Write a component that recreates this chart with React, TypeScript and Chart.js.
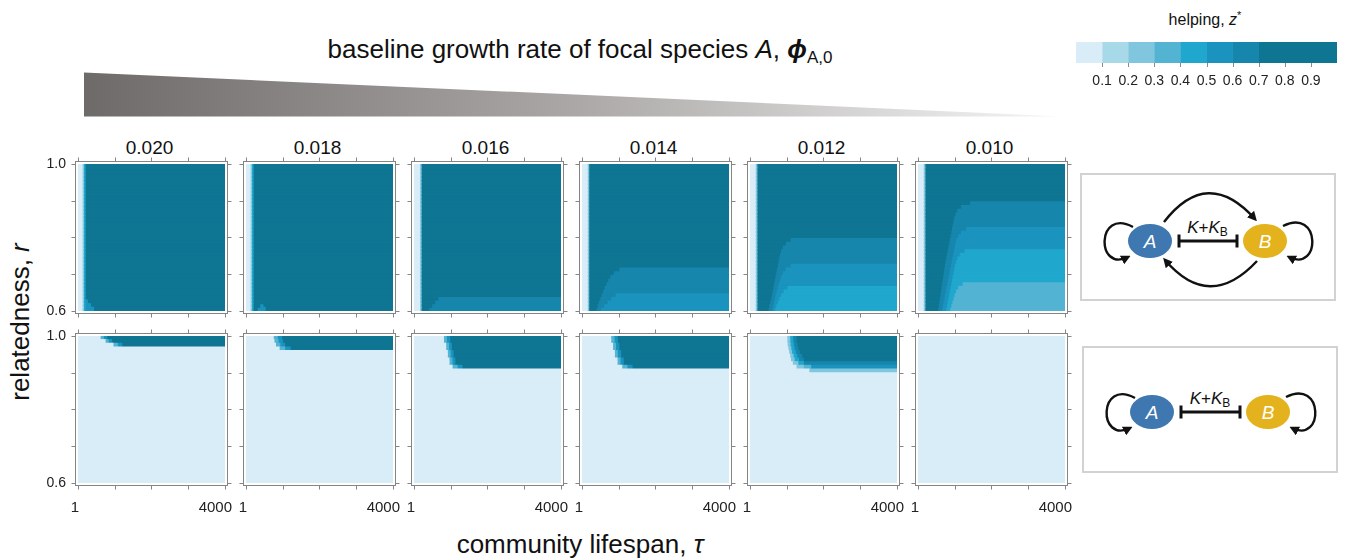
import React, { useEffect, useRef } from 'react';
import { Chart, registerables } from 'chart.js';

Chart.register(...registerables);

const FONT = '"Liberation Sans", Arial, Helvetica, sans-serif';

// ---------- colour scale for helping, z* ----------
const zBinEdges = [0, 0.1, 0.2, 0.3, 0.4, 0.5, 0.6, 0.7, 1.0];
const zBinColors = ['#d9edf8', '#a8d9e9', '#80c6de', '#53b3d2', '#1fa7cd', '#1a94be', '#1686ac', '#0e7593'];
const cbTickValues = [0.1, 0.2, 0.3, 0.4, 0.5, 0.6, 0.7, 0.8, 0.9];
const cbTickLabels = ['0.1', '0.2', '0.3', '0.4', '0.5', '0.6', '0.7', '0.8', '0.9'];

// ---------- axes ----------
const phiLabels = ['0.020', '0.018', '0.016', '0.014', '0.012', '0.010'];
const tauMin = 1;
const tauMax = 4000;
const rMin = 0.6;
const rMax = 1.0;
const rStep = 0.01;
const tauTickValues = [1, 1000, 2000, 3000, 4000];
const rTickValues = [0.6, 0.7, 0.8, 0.9, 1.0];
const tauTickLabels = ['1', '4000'];
const rTickLabels = ['1.0', '0.6'];

// ---------- heat-map data ----------
// each band: [r low, r high, runs]; runs = [[tau where run ends, z*], ...] from tau = 1
const top020 = [
  [0.63, 1.0, [[100, 0.05], [140, 0.15], [190, 0.45], [4000, 0.85]]],
  [0.62, 0.63, [[100, 0.05], [140, 0.15], [190, 0.45], [260, 0.55], [4000, 0.85]]],
  [0.61, 0.62, [[100, 0.05], [140, 0.15], [190, 0.45], [340, 0.55], [4000, 0.85]]],
  [0.6, 0.61, [[100, 0.05], [140, 0.15], [190, 0.45], [420, 0.55], [4000, 0.85]]],
];
const top018 = [
  [0.62, 1.0, [[100, 0.05], [140, 0.15], [190, 0.45], [4000, 0.85]]],
  [0.61, 0.62, [[100, 0.05], [140, 0.15], [190, 0.45], [370, 0.85], [460, 0.55], [4000, 0.85]]],
  [0.6, 0.61, [[100, 0.05], [140, 0.15], [190, 0.45], [300, 0.85], [520, 0.55], [4000, 0.85]]],
];
const top016 = [
  [0.64, 1.0, [[150, 0.05], [190, 0.25], [4000, 0.85]]],
  [0.63, 0.64, [[150, 0.05], [190, 0.25], [650, 0.85], [4000, 0.65]]],
  [0.62, 0.63, [[150, 0.05], [190, 0.25], [560, 0.85], [4000, 0.65]]],
  [0.61, 0.62, [[150, 0.05], [190, 0.25], [480, 0.85], [4000, 0.65]]],
  [0.6, 0.61, [[150, 0.05], [190, 0.25], [400, 0.85], [4000, 0.65]]],
];
const top014 = [
  [0.72, 1.0, [[140, 0.05], [180, 0.25], [4000, 0.85]]],
  [0.71, 0.72, [[140, 0.05], [180, 0.25], [1000, 0.85], [4000, 0.65]]],
  [0.7, 0.71, [[140, 0.05], [180, 0.25], [850, 0.85], [4000, 0.65]]],
  [0.69, 0.7, [[140, 0.05], [180, 0.25], [760, 0.85], [4000, 0.65]]],
  [0.68, 0.69, [[140, 0.05], [180, 0.25], [700, 0.85], [4000, 0.65]]],
  [0.67, 0.68, [[140, 0.05], [180, 0.25], [650, 0.85], [4000, 0.65]]],
  [0.66, 0.67, [[140, 0.05], [180, 0.25], [600, 0.85], [4000, 0.65]]],
  [0.65, 0.66, [[140, 0.05], [180, 0.25], [560, 0.85], [4000, 0.65]]],
  [0.64, 0.65, [[140, 0.05], [180, 0.25], [520, 0.85], [900, 0.65], [4000, 0.55]]],
  [0.63, 0.64, [[140, 0.05], [180, 0.25], [480, 0.85], [780, 0.65], [4000, 0.55]]],
  [0.62, 0.63, [[140, 0.05], [180, 0.25], [440, 0.85], [680, 0.65], [4000, 0.55]]],
  [0.61, 0.62, [[140, 0.05], [180, 0.25], [410, 0.85], [590, 0.65], [4000, 0.55]]],
  [0.6, 0.61, [[140, 0.05], [180, 0.25], [380, 0.85], [500, 0.65], [4000, 0.55]]],
];
const top012 = [
  [0.8, 1.0, [[140, 0.05], [185, 0.25], [4000, 0.85]]],
  [0.79, 0.8, [[140, 0.05], [185, 0.25], [1090, 0.85], [4000, 0.65]]],
  [0.78, 0.79, [[140, 0.05], [185, 0.25], [960, 0.85], [4000, 0.65]]],
  [0.77, 0.78, [[140, 0.05], [185, 0.25], [880, 0.85], [4000, 0.65]]],
  [0.76, 0.77, [[140, 0.05], [185, 0.25], [830, 0.85], [4000, 0.65]]],
  [0.75, 0.76, [[140, 0.05], [185, 0.25], [800, 0.85], [4000, 0.65]]],
  [0.74, 0.75, [[140, 0.05], [185, 0.25], [780, 0.85], [4000, 0.65]]],
  [0.73, 0.74, [[140, 0.05], [185, 0.25], [760, 0.85], [4000, 0.65]]],
  [0.72, 0.73, [[140, 0.05], [185, 0.25], [740, 0.85], [1090, 0.65], [4000, 0.55]]],
  [0.71, 0.72, [[140, 0.05], [185, 0.25], [720, 0.85], [960, 0.65], [4000, 0.55]]],
  [0.7, 0.71, [[140, 0.05], [185, 0.25], [700, 0.85], [880, 0.65], [4000, 0.55]]],
  [0.69, 0.7, [[140, 0.05], [185, 0.25], [680, 0.85], [830, 0.65], [4000, 0.55]]],
  [0.68, 0.69, [[140, 0.05], [185, 0.25], [660, 0.85], [800, 0.65], [4000, 0.55]]],
  [0.67, 0.68, [[140, 0.05], [185, 0.25], [640, 0.85], [770, 0.65], [4000, 0.55]]],
  [0.66, 0.67, [[140, 0.05], [185, 0.25], [620, 0.85], [740, 0.65], [1000, 0.55], [4000, 0.45]]],
  [0.65, 0.66, [[140, 0.05], [185, 0.25], [600, 0.85], [710, 0.65], [900, 0.55], [4000, 0.45]]],
  [0.64, 0.65, [[140, 0.05], [185, 0.25], [580, 0.85], [680, 0.65], [830, 0.55], [4000, 0.45]]],
  [0.63, 0.64, [[140, 0.05], [185, 0.25], [560, 0.85], [660, 0.65], [780, 0.55], [4000, 0.45]]],
  [0.62, 0.63, [[140, 0.05], [185, 0.25], [540, 0.85], [640, 0.65], [740, 0.55], [4000, 0.45]]],
  [0.61, 0.62, [[140, 0.05], [185, 0.25], [510, 0.85], [620, 0.65], [700, 0.55], [4000, 0.45]]],
  [0.6, 0.61, [[140, 0.05], [185, 0.25], [490, 0.85], [600, 0.65], [670, 0.55], [4000, 0.45]]],
];
const top010 = [
  [0.9, 1.0, [[140, 0.05], [185, 0.25], [4000, 0.85]]],
  [0.89, 0.9, [[140, 0.05], [185, 0.25], [1400, 0.85], [4000, 0.65]]],
  [0.88, 0.89, [[140, 0.05], [185, 0.25], [1150, 0.85], [4000, 0.65]]],
  [0.87, 0.88, [[140, 0.05], [185, 0.25], [1050, 0.85], [4000, 0.65]]],
  [0.86, 0.87, [[140, 0.05], [185, 0.25], [1000, 0.85], [4000, 0.65]]],
  [0.85, 0.86, [[140, 0.05], [185, 0.25], [970, 0.85], [4000, 0.65]]],
  [0.84, 0.85, [[140, 0.05], [185, 0.25], [950, 0.85], [4000, 0.65]]],
  [0.83, 0.84, [[140, 0.05], [185, 0.25], [930, 0.85], [4000, 0.65]]],
  [0.82, 0.83, [[140, 0.05], [185, 0.25], [910, 0.85], [1300, 0.65], [4000, 0.55]]],
  [0.81, 0.82, [[140, 0.05], [185, 0.25], [890, 0.85], [1150, 0.65], [4000, 0.55]]],
  [0.8, 0.81, [[140, 0.05], [185, 0.25], [870, 0.85], [1080, 0.65], [4000, 0.55]]],
  [0.79, 0.8, [[140, 0.05], [185, 0.25], [850, 0.85], [1030, 0.65], [4000, 0.55]]],
  [0.78, 0.79, [[140, 0.05], [185, 0.25], [830, 0.85], [1000, 0.65], [4000, 0.55]]],
  [0.77, 0.78, [[140, 0.05], [185, 0.25], [810, 0.85], [980, 0.65], [4000, 0.55]]],
  [0.76, 0.77, [[140, 0.05], [185, 0.25], [790, 0.85], [960, 0.65], [1250, 0.55], [4000, 0.45]]],
  [0.75, 0.76, [[140, 0.05], [185, 0.25], [770, 0.85], [940, 0.65], [1120, 0.55], [4000, 0.45]]],
  [0.74, 0.75, [[140, 0.05], [185, 0.25], [750, 0.85], [920, 0.65], [1060, 0.55], [4000, 0.45]]],
  [0.73, 0.74, [[140, 0.05], [185, 0.25], [730, 0.85], [900, 0.65], [1020, 0.55], [4000, 0.45]]],
  [0.72, 0.73, [[140, 0.05], [185, 0.25], [715, 0.85], [880, 0.65], [990, 0.55], [4000, 0.45]]],
  [0.71, 0.72, [[140, 0.05], [185, 0.25], [700, 0.85], [860, 0.65], [970, 0.55], [4000, 0.45]]],
  [0.7, 0.71, [[140, 0.05], [185, 0.25], [685, 0.85], [840, 0.65], [950, 0.55], [4000, 0.45]]],
  [0.69, 0.7, [[140, 0.05], [185, 0.25], [670, 0.85], [820, 0.65], [930, 0.55], [4000, 0.45]]],
  [0.68, 0.69, [[140, 0.05], [185, 0.25], [655, 0.85], [800, 0.65], [910, 0.55], [4000, 0.45]]],
  [0.67, 0.68, [[140, 0.05], [185, 0.25], [640, 0.85], [780, 0.65], [890, 0.55], [1200, 0.45], [4000, 0.35]]],
  [0.66, 0.67, [[140, 0.05], [185, 0.25], [625, 0.85], [760, 0.65], [870, 0.55], [1080, 0.45], [4000, 0.35]]],
  [0.65, 0.66, [[140, 0.05], [185, 0.25], [610, 0.85], [740, 0.65], [850, 0.55], [1020, 0.45], [4000, 0.35]]],
  [0.64, 0.65, [[140, 0.05], [185, 0.25], [595, 0.85], [720, 0.65], [830, 0.55], [980, 0.45], [4000, 0.35]]],
  [0.63, 0.64, [[140, 0.05], [185, 0.25], [580, 0.85], [700, 0.65], [810, 0.55], [950, 0.45], [4000, 0.35]]],
  [0.62, 0.63, [[140, 0.05], [185, 0.25], [565, 0.85], [680, 0.65], [790, 0.55], [920, 0.45], [4000, 0.35]]],
  [0.61, 0.62, [[140, 0.05], [185, 0.25], [550, 0.85], [660, 0.65], [770, 0.55], [890, 0.45], [4000, 0.35]]],
  [0.6, 0.61, [[140, 0.05], [185, 0.25], [535, 0.85], [640, 0.65], [750, 0.55], [860, 0.45], [4000, 0.35]]],
];

const bot020 = [
  [0.99, 1.0, [[600, 0.05], [690, 0.35], [780, 0.55], [4000, 0.85]]],
  [0.98, 0.99, [[735, 0.05], [820, 0.35], [915, 0.55], [4000, 0.85]]],
  [0.97, 0.98, [[950, 0.05], [1070, 0.35], [1190, 0.55], [4000, 0.85]]],
  [0.6, 0.97, [[4000, 0.05]]],
];
const bot018 = [
  [0.99, 1.0, [[740, 0.05], [850, 0.35], [970, 0.55], [4000, 0.85]]],
  [0.98, 0.99, [[760, 0.05], [870, 0.35], [990, 0.55], [4000, 0.85]]],
  [0.97, 0.98, [[800, 0.05], [920, 0.35], [1050, 0.55], [4000, 0.85]]],
  [0.96, 0.97, [[900, 0.05], [1050, 0.35], [1200, 0.55], [4000, 0.85]]],
  [0.6, 0.96, [[4000, 0.05]]],
];
const bot016 = [
  [0.98, 1.0, [[800, 0.05], [880, 0.35], [970, 0.55], [4000, 0.85]]],
  [0.96, 0.98, [[860, 0.05], [940, 0.35], [1015, 0.55], [4000, 0.85]]],
  [0.94, 0.96, [[905, 0.05], [980, 0.35], [1060, 0.55], [4000, 0.85]]],
  [0.92, 0.94, [[950, 0.05], [1030, 0.35], [1110, 0.55], [4000, 0.85]]],
  [0.91, 0.92, [[1035, 0.05], [1170, 0.35], [1305, 0.55], [4000, 0.85]]],
  [0.6, 0.91, [[4000, 0.05]]],
];
const bot014 = [
  [0.98, 1.0, [[780, 0.05], [870, 0.35], [960, 0.55], [4000, 0.85]]],
  [0.96, 0.98, [[830, 0.05], [910, 0.35], [1000, 0.55], [4000, 0.85]]],
  [0.94, 0.96, [[880, 0.05], [960, 0.35], [1050, 0.55], [4000, 0.85]]],
  [0.92, 0.94, [[950, 0.05], [1030, 0.35], [1120, 0.55], [4000, 0.85]]],
  [0.91, 0.92, [[1080, 0.05], [1220, 0.35], [1360, 0.55], [4000, 0.85]]],
  [0.6, 0.91, [[4000, 0.05]]],
];
const bot012 = [
  [0.98, 1.0, [[1000, 0.05], [1080, 0.25], [1160, 0.45], [1250, 0.65], [4000, 0.85]]],
  [0.97, 0.98, [[1010, 0.05], [1090, 0.25], [1180, 0.45], [1280, 0.65], [4000, 0.85]]],
  [0.96, 0.97, [[1030, 0.05], [1110, 0.25], [1200, 0.45], [1300, 0.65], [4000, 0.85]]],
  [0.95, 0.96, [[1050, 0.05], [1130, 0.25], [1230, 0.45], [1340, 0.65], [4000, 0.85]]],
  [0.94, 0.95, [[1080, 0.05], [1170, 0.25], [1270, 0.45], [1400, 0.65], [4000, 0.85]]],
  [0.93, 0.94, [[1100, 0.05], [1200, 0.25], [1320, 0.45], [1450, 0.65], [4000, 0.85]]],
  [0.92, 0.93, [[1150, 0.05], [1300, 0.25], [1450, 0.45], [4000, 0.65]]],
  [0.91, 0.92, [[1250, 0.05], [1450, 0.25], [1650, 0.35], [4000, 0.55]]],
  [0.9, 0.91, [[1600, 0.05], [4000, 0.25]]],
  [0.6, 0.9, [[4000, 0.05]]],
];
const bot010 = [
  [0.6, 1.0, [[4000, 0.05]]],
];

const topRowData = [top020, top018, top016, top014, top012, top010];
const bottomRowData = [bot020, bot018, bot016, bot014, bot012, bot010];

// ---------- layout ----------
const PANEL_W = 147;
const PANEL_H = 147;
const COL_X = [78, 246, 414, 582, 750, 918];
const ROW_Y = [164, 336];
const PAD = { left: 44, right: 18, top: 10, bottom: 36 };

function zColor(z: number): string {
  for (let i = 0; i < zBinColors.length; i++) {
    if (z >= zBinEdges[i] && z < zBinEdges[i + 1]) return zBinColors[i];
  }
  return zBinColors[zBinColors.length - 1];
}

function buildRows(bands: any[]) {
  const n = Math.round((rMax - rMin) / rStep);
  const rows: { label: string; runs: number[][] }[] = [];
  for (let i = 0; i < n; i++) {
    const lo = rMax - (i + 1) * rStep;
    const band = bands.find((b) => lo >= b[0] - 1e-6 && lo < b[1] - 1e-6);
    rows.push({ label: lo.toFixed(2), runs: band ? band[2] : [[tauMax, 0.05]] });
  }
  return rows;
}

const panelDecor = {
  id: 'panelDecor',
  afterDraw(chart: any, _args: any, opts: any) {
    const { ctx, chartArea: ca } = chart;
    const xs = chart.scales.x;
    const ys = chart.scales.yr;
    const g = 2;
    const tl = 4;
    ctx.save();
    ctx.strokeStyle = '#858585';
    ctx.lineWidth = 1;
    const L = Math.round(ca.left - g) - 0.5;
    const R = Math.round(ca.right + g) + 0.5;
    const T = Math.round(ca.top - g) - 0.5;
    const B = Math.round(ca.bottom + g) + 0.5;
    ctx.strokeRect(L, T, R - L, B - T);
    ctx.beginPath();
    for (const v of tauTickValues) {
      const x = Math.round(xs.getPixelForValue(v)) + 0.5;
      ctx.moveTo(x, T);
      ctx.lineTo(x, T - tl);
      ctx.moveTo(x, B);
      ctx.lineTo(x, B + tl);
    }
    for (const v of rTickValues) {
      const y = Math.round(ys.getPixelForValue(v)) + 0.5;
      ctx.moveTo(L, y);
      ctx.lineTo(L - tl, y);
      ctx.moveTo(R, y);
      ctx.lineTo(R + tl, y);
    }
    ctx.stroke();
    ctx.fillStyle = '#222';
    if (opts.showX) {
      ctx.font = `15px ${FONT}`;
      ctx.textBaseline = 'middle';
      ctx.textAlign = 'center';
      ctx.fillText(tauTickLabels[0], xs.getPixelForValue(tauMin) - 3, ca.bottom + 25);
      ctx.textAlign = 'right';
      ctx.fillText(tauTickLabels[1], xs.getPixelForValue(tauMax) + 7, ca.bottom + 25);
    }
    if (opts.showY) {
      ctx.font = `14px ${FONT}`;
      ctx.textBaseline = 'middle';
      ctx.textAlign = 'right';
      ctx.fillText(rTickLabels[0], ca.left - 12, ys.getPixelForValue(rMax));
      ctx.fillText(rTickLabels[1], ca.left - 12, ys.getPixelForValue(rMin));
    }
    ctx.restore();
  },
};

function HeatPanel({ bands, col, row }: { bands: any[]; col: number; row: number }) {
  const ref = useRef<HTMLCanvasElement>(null);
  const W = PANEL_W + PAD.left + PAD.right;
  const H = PANEL_H + PAD.top + PAD.bottom;
  useEffect(() => {
    const rows = buildRows(bands);
    const nRuns = Math.max(...rows.map((r) => r.runs.length));
    const datasets: any[] = [];
    for (let j = 0; j < nRuns; j++) {
      datasets.push({
        data: rows.map((r) => (r.runs[j] ? [j === 0 ? tauMin : r.runs[j - 1][0], r.runs[j][0]] : null)),
        backgroundColor: rows.map((r) => (r.runs[j] ? zColor(r.runs[j][1]) : 'rgba(0,0,0,0)')),
        borderWidth: 0,
        inflateAmount: 0.6,
        grouped: false,
        categoryPercentage: 1,
        barPercentage: 1,
      });
    }
    const chart = new Chart(ref.current as HTMLCanvasElement, {
      type: 'bar',
      data: { labels: rows.map((r) => r.label), datasets },
      options: {
        indexAxis: 'y',
        animation: false,
        responsive: false,
        devicePixelRatio: 1,
        events: [],
        layout: { padding: PAD },
        scales: {
          x: { type: 'linear', min: tauMin, max: tauMax, offset: false, display: false },
          y: { type: 'category', offset: true, display: false },
          yr: { type: 'linear', axis: 'y', min: rMin, max: rMax, offset: false, display: false },
        },
        plugins: {
          legend: { display: false },
          tooltip: { enabled: false },
          panelDecor: { showX: row === 1, showY: col === 0 },
        },
      } as any,
      plugins: [panelDecor],
    });
    return () => chart.destroy();
  }, []);
  return (
    <canvas
      ref={ref}
      width={W}
      height={H}
      style={{ position: 'absolute', left: COL_X[col] - PAD.left, top: ROW_Y[row] - PAD.top, width: W, height: H }}
    />
  );
}

const cbDecor = {
  id: 'cbDecor',
  afterDraw(chart: any) {
    const { ctx, chartArea: ca } = chart;
    const xs = chart.scales.x;
    ctx.save();
    ctx.strokeStyle = '#8a8a8a';
    ctx.lineWidth = 1;
    ctx.beginPath();
    cbTickValues.forEach((v) => {
      const x = Math.round(xs.getPixelForValue(v)) + 0.5;
      ctx.moveTo(x, ca.bottom);
      ctx.lineTo(x, ca.bottom + 4);
    });
    ctx.stroke();
    ctx.fillStyle = '#222';
    ctx.font = `14px ${FONT}`;
    ctx.textAlign = 'center';
    ctx.textBaseline = 'middle';
    cbTickValues.forEach((v, i) => {
      ctx.fillText(cbTickLabels[i], xs.getPixelForValue(v), ca.bottom + 18);
    });
    ctx.restore();
  },
};

const CB = { left: 1076, top: 42, width: 261, height: 21 };
const CB_PAD = { left: 12, right: 8, top: 4, bottom: 32 };

function ColorBar() {
  const ref = useRef<HTMLCanvasElement>(null);
  const W = CB.width + CB_PAD.left + CB_PAD.right;
  const H = CB.height + CB_PAD.top + CB_PAD.bottom;
  useEffect(() => {
    const datasets = zBinColors.map((c, i) => ({
      data: [[zBinEdges[i], zBinEdges[i + 1]]],
      backgroundColor: c,
      borderWidth: 0,
      grouped: false,
      categoryPercentage: 1,
      barPercentage: 1,
    }));
    const chart = new Chart(ref.current as HTMLCanvasElement, {
      type: 'bar',
      data: { labels: ['z'], datasets },
      options: {
        indexAxis: 'y',
        animation: false,
        responsive: false,
        devicePixelRatio: 1,
        events: [],
        layout: { padding: CB_PAD },
        scales: {
          x: { type: 'linear', min: zBinEdges[0], max: zBinEdges[zBinEdges.length - 1], offset: false, display: false },
          y: { type: 'category', offset: true, display: false },
        },
        plugins: { legend: { display: false }, tooltip: { enabled: false } },
      } as any,
      plugins: [cbDecor],
    });
    return () => chart.destroy();
  }, []);
  return (
    <canvas
      ref={ref}
      width={W}
      height={H}
      style={{ position: 'absolute', left: CB.left - CB_PAD.left, top: CB.top - CB_PAD.top, width: W, height: H }}
    />
  );
}

function Diagram({ ax, bx, cy, mutual, box }: { ax: number; bx: number; cy: number; mutual: boolean; box: number[] }) {
  const mx = (ax + bx) / 2;
  return (
    <g>
      <rect x={box[0]} y={box[1]} width={box[2]} height={box[3]} fill="#fff" stroke="#d2d2d2" strokeWidth={2} />
      <g fill="none" stroke="#111" strokeWidth={2.4}>
        {mutual && <path d={`M${ax + 14},${cy - 19} Q${mx},${cy - 75} ${bx - 10},${cy - 22}`} markerEnd="url(#ah)" />}
        {mutual && <path d={`M${bx - 8},${cy + 20} Q${mx + 2},${cy + 71} ${ax + 15},${cy + 19}`} markerEnd="url(#ah)" />}
        <path d={`M${ax - 17},${cy - 14} C${ax - 54},${cy - 34} ${ax - 54},${cy + 32} ${ax - 22},${cy + 16}`} markerEnd="url(#ah)" />
        <path d={`M${bx + 18},${cy - 15} C${bx + 56},${cy - 34} ${bx + 56},${cy + 32} ${bx + 24},${cy + 16}`} markerEnd="url(#ah)" />
        <path d={`M${ax + 29},${cy} L${bx - 28},${cy}`} strokeWidth={2.8} />
        <path d={`M${ax + 29},${cy - 6.5} L${ax + 29},${cy + 6.5} M${bx - 28},${cy - 6.5} L${bx - 28},${cy + 6.5}`} strokeWidth={3} />
      </g>
      <ellipse cx={ax} cy={cy} rx={22} ry={17} fill="#3f77b1" />
      <ellipse cx={bx} cy={cy} rx={22} ry={17} fill="#e4b21c" />
      <text x={ax} y={cy + 7} textAnchor="middle" fontSize={19} fontStyle="italic" fill="#fff">A</text>
      <text x={bx} y={cy + 7} textAnchor="middle" fontSize={19} fontStyle="italic" fill="#fff">B</text>
      <text x={mx} y={cy - 8} textAnchor="middle" fontSize={17} fill="#111">
        <tspan fontStyle="italic">K</tspan>+<tspan fontStyle="italic">K</tspan>
        <tspan fontSize={12} dy={3}>B</tspan>
      </text>
    </g>
  );
}

export default function App() {
  return (
    <div style={{ position: 'absolute', left: 0, top: 0, width: 1349, height: 558, overflow: 'hidden', background: '#fff', fontFamily: FONT }}>
      <svg width={1349} height={558} style={{ position: 'absolute', left: 0, top: 0 }} fontFamily={FONT}>
        <defs>
          <linearGradient id="tri" gradientUnits="userSpaceOnUse" x1={84} y1={0} x2={1062} y2={0}>
            <stop offset="0" stopColor="#6e6a69" />
            <stop offset="0.5" stopColor="#aaa7a6" />
            <stop offset="1" stopColor="#f6f6f6" />
          </linearGradient>
          <marker id="ah" viewBox="0 0 10 10" refX="7" refY="5" markerWidth="4" markerHeight="4" orient="auto" markerUnits="strokeWidth">
            <path d="M0,0 L10,5 L0,10 z" fill="#111" stroke="none" />
          </marker>
        </defs>
        <text x={580} y={58} textAnchor="middle" fontSize={26} fill="#111">
          baseline growth rate of focal species <tspan fontStyle="italic">A</tspan>,{' '}
          <tspan fontStyle="italic" fontWeight="bold">ϕ</tspan>
          <tspan fontSize={17} dy={5}>A,0</tspan>
        </text>
        <polygon points="84,72.5 84,116.5 1062,116.5" fill="url(#tri)" />
        {phiLabels.map((p, i) => (
          <text key={p} x={COL_X[i] + PANEL_W / 2 - 2} y={154} textAnchor="middle" fontSize={19} fill="#111">{p}</text>
        ))}
        <text transform="translate(29,322) rotate(-90)" textAnchor="middle" fontSize={26} fill="#111">
          relatedness, <tspan fontStyle="italic">r</tspan>
        </text>
        <text x={580} y={553} textAnchor="middle" fontSize={26} fill="#111">
          community lifespan, <tspan fontStyle="italic">τ</tspan>
        </text>
        <text x={1205} y={25} textAnchor="middle" fontSize={16} fill="#111">
          helping, <tspan fontStyle="italic">z</tspan>
          <tspan fontSize={11} dy={-6}>*</tspan>
        </text>
        <Diagram ax={1150} bx={1265} cy={241} mutual={true} box={[1081, 174, 254, 126]} />
        <Diagram ax={1152} bx={1268} cy={412} mutual={false} box={[1083, 347, 254, 125]} />
      </svg>
      <ColorBar />
      {topRowData.map((d, i) => (
        <HeatPanel key={'t' + i} bands={d} col={i} row={0} />
      ))}
      {bottomRowData.map((d, i) => (
        <HeatPanel key={'b' + i} bands={d} col={i} row={1} />
      ))}
    </div>
  );
}
